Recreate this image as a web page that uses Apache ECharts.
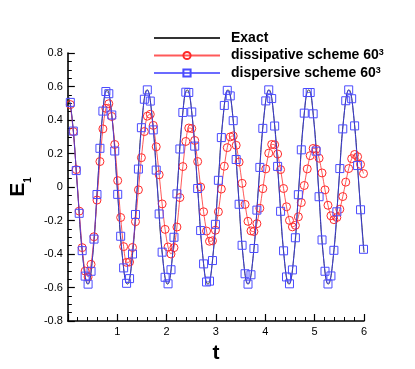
<!DOCTYPE html>
<html>
<head>
<meta charset="utf-8">
<script src="https://cdn.jsdelivr.net/npm/echarts@6/dist/echarts.min.js"></script>
<style>
  html, body { margin: 0; padding: 0; background: #fff; }
  #chart { width: 415px; height: 369px; }
</style>
</head>
<body>
<div id="chart"></div>
<script>
// exact solution (read at peaks, troughs and in between)
const exactT = [0, 0.087, 0.193, 0.30, 0.406,
  0.503, 0.60, 0.696, 0.793, 0.897, 1.0, 1.103, 1.207,
  1.307, 1.407, 1.506, 1.606, 1.71, 1.813, 1.917, 2.02,
  2.12, 2.219, 2.318, 2.418, 2.523, 2.628, 2.733, 2.838,
  2.94, 3.041, 3.143, 3.244, 3.346, 3.447, 3.549, 3.65,
  3.756, 3.862, 3.969, 4.075, 4.176, 4.278, 4.379, 4.48,
  4.58, 4.68, 4.78, 4.88, 4.979, 5.078, 5.176, 5.275,
  5.38, 5.485, 5.589, 5.694, 5.796, 5.898, 6.0];
const exactE = [0.56, 0.41, 0, -0.41, -0.58,
  -0.41, 0, 0.41, 0.58, 0.41, 0, -0.41, -0.58,
  -0.41, 0, 0.41, 0.58, 0.41, 0, -0.41, -0.58,
  -0.41, 0, 0.41, 0.58, 0.41, 0, -0.41, -0.58,
  -0.41, 0, 0.41, 0.58, 0.41, 0, -0.41, -0.58,
  -0.41, 0, 0.41, 0.58, 0.41, 0, -0.41, -0.58,
  -0.41, 0, 0.41, 0.58, 0.41, 0, -0.41, -0.58,
  -0.41, 0, 0.41, 0.58, 0.41, 0, -0.39];

// times of the plotted symbols (both schemes)
const markT = [0.05, 0.11, 0.17, 0.23, 0.29, 0.35, 0.41, 0.47, 0.53, 0.59,
  0.65, 0.71, 0.77, 0.83, 0.89, 0.95, 1.01, 1.07, 1.13, 1.19,
  1.25, 1.31, 1.37, 1.43, 1.49, 1.55, 1.61, 1.67, 1.73, 1.79,
  1.85, 1.91, 1.97, 2.03, 2.09, 2.15, 2.21, 2.27, 2.33, 2.39,
  2.45, 2.51, 2.57, 2.63, 2.69, 2.75, 2.81, 2.87, 2.93, 2.99,
  3.05, 3.11, 3.17, 3.23, 3.29, 3.35, 3.41, 3.47, 3.53, 3.59,
  3.65, 3.71, 3.77, 3.83, 3.89, 3.95, 4.01, 4.07, 4.13, 4.19,
  4.25, 4.31, 4.37, 4.43, 4.49, 4.55, 4.61, 4.67, 4.73, 4.79,
  4.85, 4.91, 4.97, 5.03, 5.09, 5.15, 5.21, 5.27, 5.33, 5.39,
  5.45, 5.51, 5.57, 5.63, 5.69, 5.75, 5.81, 5.87, 5.93, 5.99];

// dissipative scheme 60^3 (red circles)
const dissE = [0.492, 0.331, 0.104, -0.144, -0.362, -0.502, -0.537, -0.462, -0.297, -0.078,
  0.152, 0.347, 0.470, 0.497, 0.421, 0.254, 0.038, -0.182, -0.356, -0.450,
  -0.448, -0.361, -0.207, -0.017, 0.175, 0.331, 0.423, 0.434, 0.368, 0.240,
  0.073, -0.101, -0.253, -0.358, -0.400, -0.362, -0.239, -0.063, 0.122, 0.272,
  0.352, 0.349, 0.278, 0.152, 0, -0.148, -0.263, -0.324, -0.321, -0.258,
  -0.148, -0.012, 0.124, 0.235, 0.299, 0.305, 0.249, 0.149, 0.022, -0.104,
  -0.205, -0.262, -0.266, -0.219, -0.127, -0.010, 0.108, 0.202, 0.254, 0.252,
  0.197, 0.104, -0.009, -0.118, -0.199, -0.238, -0.229, -0.178, -0.093, 0.009,
  0.108, 0.187, 0.230, 0.226, 0.172, 0.084, -0.017, -0.109, -0.172, -0.195,
  -0.182, -0.133, -0.057, 0.029, 0.110, 0.169, 0.194, 0.181, 0.135, 0.08];

// dispersive scheme 60^3 (blue squares)
const dispE = [0.505, 0.334, 0.098, -0.157, -0.380, -0.532, -0.580, -0.503, -0.311, -0.045,
  0.231, 0.453, 0.570, 0.557, 0.430, 0.215, -0.044, -0.294, -0.483, -0.575,
  -0.547, -0.400, -0.164, 0.107, 0.354, 0.524, 0.580, 0.513, 0.341, 0.101,
  -0.161, -0.389, -0.539, -0.578, -0.494, -0.300, -0.041, 0.227, 0.445, 0.566,
  0.564, 0.448, 0.244, -0.009, -0.260, -0.459, -0.567, -0.562, -0.439, -0.223,
  0.040, 0.295, 0.487, 0.577, 0.544, 0.396, 0.164, -0.103, -0.348, -0.518,
  -0.580, -0.524, -0.367, -0.138, 0.117, 0.350, 0.514, 0.580, 0.528, 0.364,
  0.123, -0.145, -0.381, -0.537, -0.578, -0.495, -0.303, -0.046, 0.222, 0.441,
  0.564, 0.564, 0.437, 0.214, -0.058, -0.316, -0.503, -0.579, -0.531, -0.378,
  -0.148, 0.110, 0.347, 0.515, 0.580, 0.527, 0.365, 0.128, -0.136, -0.372];

const seriesNames = ['Exact', 'dissipative scheme 60', 'dispersive scheme 60'];
const xTickLabels = ['', '1', '2', '3', '4', '5', '6'];

function pairs(xs, ys) {
  return xs.map((x, i) => [x, ys[i]]);
}

var chart = echarts.init(document.getElementById('chart'), null, { renderer: 'canvas' });
var font = '"Liberation Sans", Arial, Helvetica, sans-serif';
var axisCol = '#000';

var option = {
  backgroundColor: '#fff',
  animation: false,
  textStyle: { fontFamily: font },
  grid: { left: 54, top: 53, width: 310, height: 274 },
  legend: {
    orient: 'vertical',
    left: 153,
    top: 31,
    padding: 0,
    itemWidth: 66,
    itemHeight: 9,
    itemGap: 3.5,
    data: [
      { name: seriesNames[0], itemStyle: { opacity: 0 } },
      seriesNames[1],
      seriesNames[2]
    ],
    formatter: function (name) {
      return name === 'Exact' ? '{b|' + name + '}' : '{b|' + name + '}{sup|3}';
    },
    textStyle: {
      padding: [0, 0, 0, 6],
      rich: {
        b: { fontFamily: font, fontWeight: 'bold', fontSize: 14, color: '#000', lineHeight: 14 },
        sup: { fontFamily: font, fontWeight: 'bold', fontSize: 9, color: '#000', verticalAlign: 'top', lineHeight: 14 }
      }
    }
  },
  xAxis: {
    type: 'value',
    min: 0,
    max: 6,
    interval: 1,
    name: 't',
    nameLocation: 'middle',
    nameGap: 22,
    nameTextStyle: { fontFamily: font, fontWeight: 'bold', fontSize: 21, color: '#000' },
    axisLine: { onZero: false, lineStyle: { color: axisCol, width: 1.6 } },
    axisTick: { inside: true, length: 7, lineStyle: { color: axisCol, width: 1.2 } },
    minorTick: { show: true, splitNumber: 5, length: 4, lineStyle: { color: axisCol, width: 1 } },
    splitLine: { show: false },
    axisLabel: {
      fontFamily: font, fontSize: 11, color: '#000', margin: 5,
      formatter: function (v) { return xTickLabels[Math.round(v)]; }
    }
  },
  yAxis: {
    type: 'value',
    min: -0.8,
    max: 0.8,
    interval: 0.2,
    name: '{e|E}{s|1}',
    nameLocation: 'middle',
    nameRotate: 90,
    nameGap: 31,
    nameTextStyle: {
      rich: {
        e: { fontFamily: font, fontWeight: 'bold', fontSize: 21, color: '#000' },
        s: { fontFamily: font, fontWeight: 'bold', fontSize: 10, color: '#000', verticalAlign: 'bottom', padding: [0, 0, -4, 0] }
      }
    },
    axisLine: { onZero: false, lineStyle: { color: axisCol, width: 1.6 } },
    axisTick: { inside: true, length: 7, lineStyle: { color: axisCol, width: 1.2 } },
    minorTick: { show: true, splitNumber: 4, length: 4, lineStyle: { color: axisCol, width: 1 } },
    splitLine: { show: false },
    axisLabel: {
      fontFamily: font, fontSize: 11, color: '#000', margin: 5,
      formatter: function (v) { return String(Math.round(v * 10) / 10); }
    }
  },
  series: [
    {
      name: seriesNames[0],
      type: 'line',
      data: pairs(exactT, exactE),
      smooth: 0.5,
      showSymbol: false,
      symbol: 'none',
      color: '#333',
      lineStyle: { color: '#333', width: 1 },
      z: 3
    },
    {
      name: seriesNames[1],
      type: 'line',
      data: pairs(markT, dissE),
      smooth: 0.3,
      symbol: 'circle',
      symbolSize: 8,
      color: '#ff2020',
      lineStyle: { color: '#ff3030', width: 1, opacity: 0.8 },
      itemStyle: { color: 'rgba(0,0,0,0)', borderColor: '#ff2a2a', borderWidth: 1 },
      z: 4
    },
    {
      name: seriesNames[2],
      type: 'line',
      data: pairs(markT, dispE),
      smooth: 0.3,
      symbol: 'rect',
      symbolSize: 8,
      color: '#3535ff',
      lineStyle: { color: '#3a3aff', width: 1, opacity: 0.75 },
      itemStyle: { color: 'rgba(0,0,0,0)', borderColor: '#4a4aff', borderWidth: 1 },
      z: 5
    }
  ]
};

chart.setOption(option);
</script>
</body>
</html>
